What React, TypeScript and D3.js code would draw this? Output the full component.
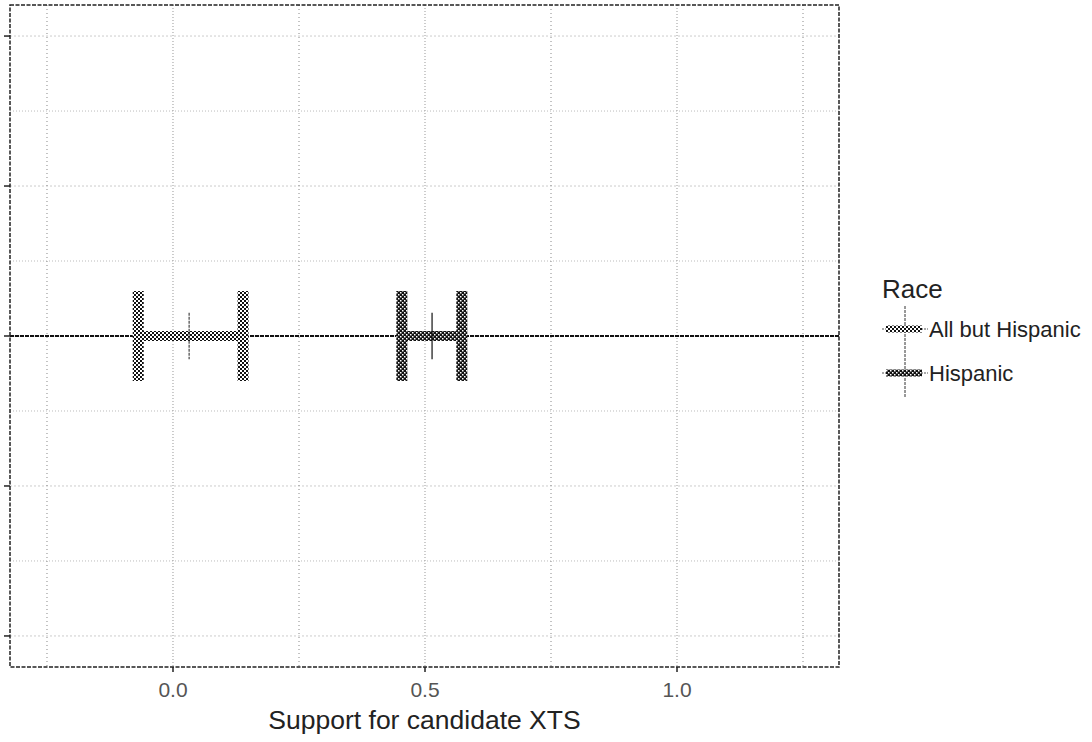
import React from "react";
import * as d3 from "d3";

const races = ["All but Hispanic", "Hispanic"];
const estimates = [0.032, 0.514];
const lowers = [-0.069, 0.454];
const uppers = [0.139, 0.573];
const xTicks = [0, 0.5, 1.0];
const xMinor = [-0.25, 0.25, 0.75, 1.25];
const yTicks = [-2, -1, 0, 1, 2];
const yMinor = [-1.5, -0.5, 0.5, 1.5];

export default function App() {
  const W = 1092, H = 742;
  const left = 10, right = 839, top = 5, bottom = 667;
  const x = d3.scaleLinear().domain([-0.3234, 1.3214]).range([left, right]);
  const y = d3.scaleLinear().domain([-2.207, 2.207]).range([bottom, top]);
  const fmt = d3.format(".1f");
  const whiskerHalf = 0.3;
  const estHalf = 0.155;

  return (
    <svg width={W} height={H} style={{ position: "absolute", left: 0, top: 0, background: "#fff" }}
      fontFamily="Liberation Sans, Arial, sans-serif">
      <defs>
        <pattern id="chk0" width={4} height={4} patternUnits="userSpaceOnUse">
          <rect width={4} height={4} fill="#fff" />
          <rect x={0} y={0} width={2} height={2} fill="#111" />
          <rect x={2} y={2} width={2} height={2} fill="#111" />
        </pattern>
        <pattern id="chk1" width={4} height={4} patternUnits="userSpaceOnUse">
          <rect width={4} height={4} fill="#111" />
          <rect x={0} y={0} width={1.5} height={1.5} fill="#fff" />
          <rect x={2} y={2} width={1.5} height={1.5} fill="#fff" />
        </pattern>
      </defs>
      {/* grid */}
      {yMinor.map((v) => (
        <line key={"ym" + v} x1={left} x2={right} y1={y(v)} y2={y(v)} stroke="#bbb" strokeDasharray="1,2" />
      ))}
      {yTicks.map((v) => (
        <line key={"yg" + v} x1={left} x2={right} y1={y(v)} y2={y(v)} stroke="#ccc" strokeDasharray="2,2" />
      ))}
      {xMinor.map((v) => (
        <line key={"xm" + v} x1={x(v)} x2={x(v)} y1={top} y2={bottom} stroke="#888" strokeDasharray="1,3" />
      ))}
      {xTicks.map((v) => (
        <line key={"xg" + v} x1={x(v)} x2={x(v)} y1={top} y2={bottom} stroke="#999" strokeDasharray="1,2" />
      ))}
      {/* horizontal reference line */}
      <line x1={left} x2={right} y1={y(0)} y2={y(0)} stroke="#111" strokeWidth={2} strokeDasharray="4,1" />
      {/* error bars */}
      {races.map((r, i) => {
        const yc = y(0);
        const hw = 11;
        return (
          <g key={r}>
            <rect x={x(lowers[i])} y={yc - 5} width={x(uppers[i]) - x(lowers[i])} height={10} fill={`url(#chk${i})`} />
            <rect x={x(lowers[i]) - hw / 2} y={y(whiskerHalf)} width={hw} height={y(-whiskerHalf) - y(whiskerHalf)} fill={`url(#chk${i})`} />
            <rect x={x(uppers[i]) - hw / 2} y={y(whiskerHalf)} width={hw} height={y(-whiskerHalf) - y(whiskerHalf)} fill={`url(#chk${i})`} />
            <line x1={x(estimates[i])} x2={x(estimates[i])} y1={y(estHalf)} y2={y(-estHalf)}
              stroke={i === 0 ? "#444" : "#111"} strokeWidth={1.2} strokeDasharray={i === 0 ? "3,1" : undefined} />
          </g>
        );
      })}
      {/* panel border */}
      <rect x={left} y={top} width={right - left} height={bottom - top} fill="none" stroke="#222" strokeWidth={1.5} strokeDasharray="4,1.5" />
      {/* y ticks */}
      {yTicks.map((v) => (
        <line key={"yt" + v} x1={left - 6} x2={left} y1={y(v)} y2={y(v)} stroke="#222" strokeWidth={1.5} />
      ))}
      {/* x ticks */}
      {xTicks.map((v) => (
        <g key={"xt" + v}>
          <line x1={x(v)} x2={x(v)} y1={bottom} y2={bottom + 5} stroke="#222" strokeWidth={1.5} />
          <text x={x(v)} y={697} textAnchor="middle" fontSize={21} fill="#555">{fmt(v)}</text>
        </g>
      ))}
      <text x={(left + right) / 2} y={729} textAnchor="middle" fontSize={26.5} fill="#222">Support for candidate XTS</text>
      {/* legend */}
      <text x={882} y={298} fontSize={26} fill="#222">Race</text>
      <line x1={905} x2={905} y1={306} y2={397} stroke="#333" strokeWidth={1} strokeDasharray="3,1" />
      {races.map((r, i) => {
        const ly = 329 + i * 44;
        return (
          <g key={"lg" + r}>
            <line x1={882} x2={928} y1={ly} y2={ly} stroke="#555" strokeWidth={1} strokeDasharray="2,1" />
            <rect x={886} y={ly - 3.5} width={36} height={7} fill={`url(#chk${i})`} />
            <text x={929} y={ly + 8} fontSize={22} fill="#222">{r}</text>
          </g>
        );
      })}
    </svg>
  );
}
